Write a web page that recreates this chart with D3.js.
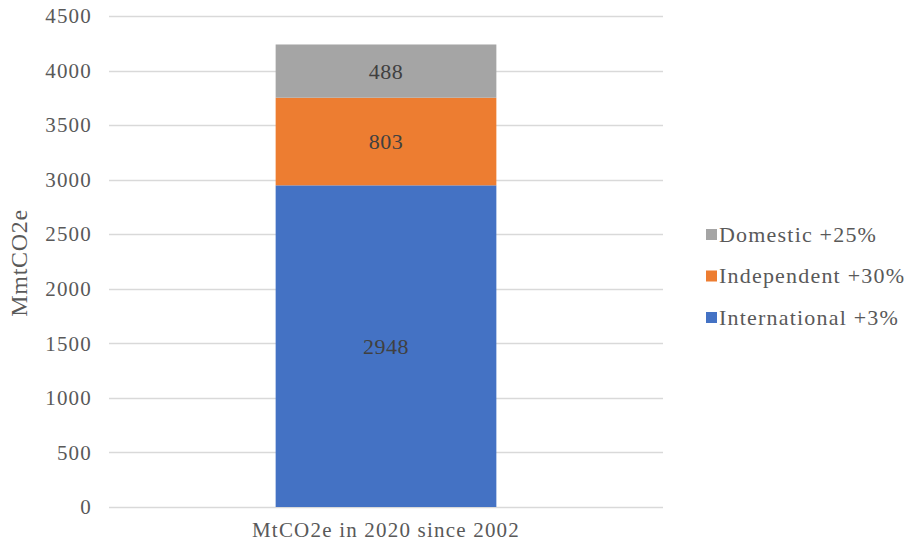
<!DOCTYPE html>
<html>
<head>
<meta charset="utf-8">
<script src="https://cdn.jsdelivr.net/npm/d3@7"></script>
<style>
  html, body { margin: 0; padding: 0; background: #fff; }
  svg { display: block; font-family: "Liberation Serif", "Times New Roman", serif; }
</style>
</head>
<body>
<svg id="chart" width="905" height="547"></svg>
<script>
// Emissions in 2020 by segment (MtCO2e), with change since 2002
const categories = ["MtCO2e in 2020 since 2002"];
const seriesNames = ["International +3%", "Independent +30%", "Domestic +25%"];
const seriesValues = [2948, 803, 488];
const seriesColors = ["#4472c4", "#ed7d31", "#a5a5a5"];
const yTicks = [0, 500, 1000, 1500, 2000, 2500, 3000, 3500, 4000, 4500];
const yTitle = "MmtCO2e";

const svg = d3.select("#chart");
const plot = { left: 109, right: 663, top: 16, bottom: 507 };
const textColor = "#595959";

const x = d3.scaleBand().domain(categories).range([plot.left, plot.right]).paddingInner(0.6).paddingOuter(0.302);
const y = d3.scaleLinear().domain([0, 4500]).range([plot.bottom, plot.top]);

// gridlines
svg.append("g").selectAll("line").data(yTicks).join("line")
  .attr("x1", plot.left).attr("x2", plot.right)
  .attr("y1", d => Math.round(y(d)) + 0.5).attr("y2", d => Math.round(y(d)) + 0.5)
  .attr("stroke", "#d9d9d9").attr("stroke-width", 1.5);

// y axis labels
const yAxis = d3.axisLeft(y).tickValues(yTicks).tickSize(0).tickPadding(17).tickFormat(d3.format("d"));
const yg = svg.append("g").attr("transform", `translate(${plot.left},0)`).call(yAxis);
yg.select(".domain").remove();
yg.selectAll("text")
  .attr("font-size", 21).attr("letter-spacing", 1.2)
  .attr("fill", textColor).attr("font-family", "Liberation Serif, serif");

// stacked segments
const stacked = [];
let acc = 0;
seriesValues.forEach((v, i) => { stacked.push({ name: seriesNames[i], v, y0: acc, y1: acc + v, color: seriesColors[i] }); acc += v; });

const bx = x(categories[0]);
const bw = x.bandwidth();
svg.append("g").selectAll("rect").data(stacked).join("rect")
  .attr("x", bx).attr("width", bw)
  .attr("y", d => y(d.y1)).attr("height", d => y(d.y0) - y(d.y1))
  .attr("fill", d => d.color);

svg.append("g").selectAll("text").data(stacked).join("text")
  .attr("x", bx + bw / 2)
  .attr("y", d => (y(d.y0) + y(d.y1)) / 2)
  .attr("dy", "0.35em")
  .attr("text-anchor", "middle")
  .attr("font-size", 22).attr("letter-spacing", 0.5)
  .attr("fill", "#404040")
  .text(d => d.v);

// x axis category label
svg.append("text")
  .attr("x", bx + bw / 2).attr("y", 537)
  .attr("text-anchor", "middle").attr("font-size", 21).attr("letter-spacing", 1.2)
  .attr("fill", textColor)
  .text(categories[0]);

// y axis title
svg.append("text")
  .attr("transform", `translate(27,263) rotate(-90)`)
  .attr("text-anchor", "middle").attr("font-size", 24).attr("letter-spacing", 0.7)
  .attr("fill", textColor)
  .text(yTitle);

// legend (top series first)
const legendItems = stacked.slice().reverse();
const lg = svg.append("g").attr("transform", "translate(706,0)");
legendItems.forEach((d, i) => {
  const cy = 234 + i * 41.5;
  lg.append("rect").attr("x", 0).attr("y", cy - 5).attr("width", 11).attr("height", 11).attr("fill", d.color);
  lg.append("text").attr("x", 13).attr("y", cy).attr("dy", "0.35em")
    .attr("font-size", 22).attr("letter-spacing", 1.2)
    .attr("fill", textColor).text(d.name);
});
</script>
</body>
</html>
